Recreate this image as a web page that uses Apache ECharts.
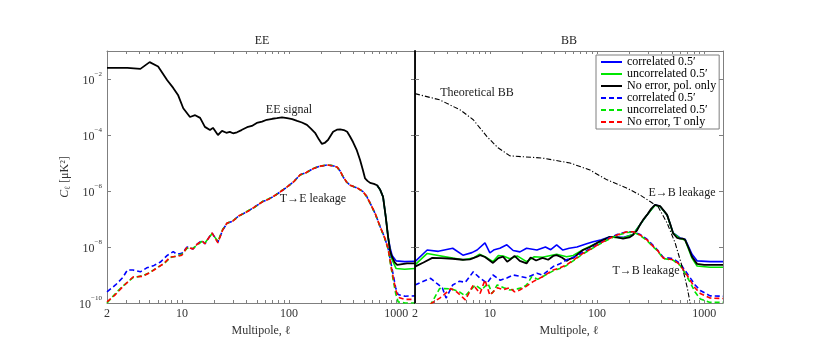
<!DOCTYPE html>
<html>
<head>
<meta charset="utf-8">
<script src="https://cdn.jsdelivr.net/npm/echarts@6/dist/echarts.min.js"></script>
<style>
  html, body { margin: 0; padding: 0; background: #fff; }
  #chart { width: 830px; height: 348px; }
</style>
</head>
<body>
<div id="chart"></div>
<script>
// tick positions and labels
const xTickLabels = [2, 10, 100, 1000]
const xTicks = [2, 3, 4, 5, 6, 7, 8, 9, 10, 20, 30, 40, 50, 60, 70, 80, 90, 100, 200, 300, 400, 500, 600, 700, 800, 900, 1000]
const yTicks = [1e-10, 1e-8, 1e-6, 1e-4, 1e-2]

// EE panel: [multipole, C_l]
const eeSignal = [[2, 2.5e-2], [3.1, 2.5e-2], [4.1, 2.3e-2], [5, 4e-2], [6, 2.8e-2], [7.3, 9e-3], [8.3, 4.8e-3], [9.2, 2.7e-3], [10.3, 9e-4], [11.9, 4.4e-4], [13.3, 5.1e-4], [14.8, 4.1e-4], [16.4, 1.95e-4], [18.3, 1.5e-4], [19.5, 1.8e-4], [21.7, 1e-4], [23.7, 1.4e-4], [26, 1.2e-4], [28, 1.3e-4], [30, 1.15e-4], [32.7, 1.25e-4], [36, 1.5e-4], [40.6, 1.9e-4], [45, 2.1e-4], [50, 2.7e-4], [56, 3e-4], [62, 3.5e-4], [70, 3.8e-4], [77, 4e-4], [86, 4.3e-4], [96, 4e-4], [107, 3.7e-4], [119, 3.2e-4], [132, 2.8e-4], [147, 2.3e-4], [160, 1.7e-4], [175, 1.2e-4], [190, 7e-5], [203, 4.8e-5], [215, 5.2e-5], [231, 6.6e-5], [258, 1.3e-4], [280, 1.55e-4], [300, 1.6e-4], [325, 1.5e-4], [349, 1.3e-4], [370, 9e-5], [396, 5.6e-5], [430, 2.8e-5], [460, 1.3e-5], [490, 5.5e-6], [513, 2.8e-6], [540, 2.3e-6], [572, 1.95e-6], [620, 1.8e-6], [664, 1.6e-6], [710, 1.1e-6], [755, 6.2e-7], [800, 1.2e-7], [841, 2.3e-8], [880, 7e-9], [917, 4.4e-9], [970, 2.8e-9], [1021, 2.3e-9], [1265, 2.6e-9], [1500, 2.6e-9]]
const eeCorrTail = [[664, 1.6e-6], [710, 1.1e-6], [755, 6.2e-7], [800, 1.2e-7], [841, 2.3e-8], [880, 9e-9], [917, 5e-9], [1000, 3.2e-9], [1200, 3e-9], [1500, 3.1e-9]]
const eeUncorrTail = [[664, 1.6e-6], [710, 1.1e-6], [755, 6.2e-7], [800, 1.2e-7], [841, 2.3e-8], [880, 6e-9], [917, 3.5e-9], [1000, 1.7e-9], [1200, 1.6e-9], [1500, 1.7e-9]]
const teLeakCorr = [[2, 2.5e-10], [2.4, 4.4e-10], [2.8, 8e-10], [3.1, 1.5e-9], [3.5, 1.5e-9], [4.1, 1.3e-9], [4.7, 1.8e-9], [5.5, 2.2e-9], [6.3, 2.9e-9], [7.3, 5e-9], [8.3, 6.8e-9], [9, 5.5e-9], [10, 6e-9], [11.2, 1e-8], [12.7, 8.5e-9], [14, 1.3e-8], [15.4, 1.7e-8], [16.4, 1.3e-8], [19.1, 3.2e-8], [21.7, 1.5e-8], [24, 4e-8], [26.4, 7e-8], [30, 8.5e-8], [34, 1.3e-7], [40.6, 1.8e-7], [47, 2.6e-7], [57, 4.2e-7], [64, 5e-7], [71, 6.3e-7], [82, 9e-7], [96, 1.4e-6], [110, 2.1e-6], [127, 3.8e-6], [145, 4.6e-6], [164, 6e-6], [190, 7.5e-6], [226, 8.5e-6], [255, 8e-6], [281, 7.2e-6], [300, 5.2e-6], [320, 3.2e-6], [345, 2.1e-6], [372, 1.6e-6], [432, 1.3e-6], [491, 9.5e-7], [530, 6.5e-7], [572, 3.7e-7], [640, 1.5e-7], [708, 5.4e-8], [780, 2.2e-8], [841, 9e-9], [890, 3e-9], [936, 1.1e-9], [990, 3.5e-10], [1043, 2e-10], [1211, 1.75e-10], [1500, 1.8e-10]]
const teLeakUncorr = [[2, 1e-10], [2.4, 2.2e-10], [2.8, 4e-10], [3.5, 8e-10], [4.3, 9.5e-10], [5, 1.2e-9], [5.9, 1.9e-9], [6.8, 2.5e-9], [7.8, 4.2e-9], [9, 4.8e-9], [10, 5.5e-9], [11.2, 9e-9], [12.7, 9e-9], [14, 1.2e-8], [15.4, 1.6e-8], [16.4, 1.4e-8], [19.1, 3e-8], [21.7, 1.6e-8], [24, 4.2e-8], [26.4, 7e-8], [30, 8.8e-8], [34, 1.25e-7], [40.6, 1.9e-7], [47, 2.5e-7], [57, 4.3e-7], [64, 5.2e-7], [71, 6.1e-7], [82, 9.2e-7], [96, 1.4e-6], [110, 2.1e-6], [127, 3.7e-6], [145, 4.5e-6], [164, 6.1e-6], [190, 7.6e-6], [226, 8.6e-6], [255, 8.1e-6], [281, 7.1e-6], [300, 5.2e-6], [320, 3.2e-6], [345, 2.1e-6], [372, 1.6e-6], [432, 1.3e-6], [491, 9.4e-7], [530, 6.4e-7], [572, 3.6e-7], [640, 1.5e-7], [708, 5.3e-8], [780, 2.1e-8], [841, 8.5e-9], [890, 2.2e-9], [936, 7e-10], [990, 2.2e-10], [1043, 1.1e-10], [1211, 1e-10], [1500, 1e-10]]
const teLeakNoErr = [[2, 1.1e-10], [2.4, 2e-10], [2.8, 3.8e-10], [3.5, 8.5e-10], [4.3, 9e-10], [5, 1.2e-9], [5.9, 1.8e-9], [6.8, 2.6e-9], [7.8, 4.4e-9], [9, 4.6e-9], [10, 5.1e-9], [11.2, 1e-8], [12.7, 8.5e-9], [14, 1.3e-8], [15.4, 1.66e-8], [16.4, 1.3e-8], [19.1, 3.2e-8], [21.7, 1.4e-8], [24, 4e-8], [26.4, 7.2e-8], [30, 8.5e-8], [34, 1.3e-7], [40.6, 1.8e-7], [47, 2.6e-7], [57, 4.2e-7], [64, 5e-7], [71, 6.3e-7], [82, 9e-7], [96, 1.4e-6], [110, 2.1e-6], [127, 3.8e-6], [145, 4.6e-6], [164, 6e-6], [190, 7.5e-6], [226, 8.5e-6], [255, 8e-6], [281, 7.2e-6], [300, 5.2e-6], [320, 3.2e-6], [345, 2.1e-6], [372, 1.6e-6], [432, 1.3e-6], [491, 9.5e-7], [530, 6.5e-7], [572, 3.7e-7], [640, 1.5e-7], [708, 5.4e-8], [780, 2.2e-8], [841, 9e-9], [890, 2.5e-9], [936, 8.7e-10], [990, 3e-10], [1043, 1.6e-10], [1211, 1.35e-10], [1500, 1.35e-10]]

// BB panel: [multipole, C_l]
const bbTheory = [[2, 3e-3], [3.4, 1.8e-3], [5.3, 7.8e-4], [7, 3.5e-4], [9.4, 8.7e-5], [11.9, 3.5e-5], [15.4, 1.8e-5], [31, 1.5e-5], [56, 1e-5], [86, 5.6e-6], [124, 2.5e-6], [191, 1.26e-6], [252, 7.2e-7], [313, 4.2e-7], [372, 2.75e-7], [451, 7.2e-8], [536, 1.4e-8], [623, 2e-9], [693, 3.8e-10], [740, 1e-10], [760, 5e-11]]
const ebCorr = [[2, 3e-9], [2.6, 7.8e-9], [3.3, 7e-9], [4.5, 9e-9], [5.6, 5.1e-9], [6.8, 6.3e-9], [7.6, 7.8e-9], [9, 1.4e-8], [10, 6.2e-9], [11, 8e-9], [12.4, 9e-9], [14.4, 1.2e-8], [16.5, 7.5e-9], [19.1, 6.7e-9], [22, 9e-9], [27.5, 7.8e-9], [33, 1e-8], [37, 8e-9], [42, 1.2e-8], [48, 7.8e-9], [55, 9e-9], [65, 1e-8], [80, 1.3e-8], [92, 1.55e-8], [110, 1.8e-8], [132, 2.3e-8], [175, 2.2e-8], [217, 2.8e-8], [252, 6.2e-8], [293, 1.4e-7], [348, 3.2e-7], [388, 2.8e-7], [451, 1.4e-7], [513, 3.2e-8], [596, 2.1e-8], [664, 1.9e-8], [771, 5.5e-9], [859, 3.2e-9], [1136, 3e-9], [1500, 3e-9]]
const ebUncorr = [[2, 2.3e-9], [2.6, 5.9e-9], [3.3, 5e-9], [4.5, 4e-9], [5.6, 3.5e-9], [7, 4e-9], [8, 5.5e-9], [9, 4.5e-9], [10.7, 3e-9], [12, 5e-9], [13.3, 4.8e-9], [15.4, 3.8e-9], [18, 4.8e-9], [22, 3e-9], [26, 4.5e-9], [31, 4.3e-9], [37, 5e-9], [42, 5.5e-9], [52, 4.5e-9], [60, 5e-9], [74, 8e-9], [100, 1.4e-8], [132, 2.3e-8], [175, 2.1e-8], [217, 2.8e-8], [252, 6.2e-8], [293, 1.4e-7], [348, 3.1e-7], [388, 2.8e-7], [451, 1.4e-7], [513, 3.1e-8], [596, 2e-8], [664, 1.8e-8], [771, 4e-9], [859, 2.1e-9], [1136, 1.9e-9], [1500, 1.9e-9]]
const ebNoErr = [[2, 2e-9], [2.4, 2.8e-9], [2.9, 4.1e-9], [3.5, 4e-9], [4.5, 3.8e-9], [5.6, 3.5e-9], [6.5, 3.6e-9], [7.6, 4.5e-9], [8.1, 5.1e-9], [9, 4.4e-9], [10.7, 2.7e-9], [12, 4e-9], [13.3, 4.5e-9], [14.5, 3e-9], [15.4, 3.5e-9], [17, 4.8e-9], [19, 3.2e-9], [22, 2.6e-9], [24, 4.2e-9], [27, 3.3e-9], [31, 4.1e-9], [35, 3.5e-9], [39, 4.8e-9], [42, 5.1e-9], [47, 4.2e-9], [52, 3.2e-9], [56, 3.8e-9], [60, 4.1e-9], [66, 5.5e-9], [74, 7.8e-9], [86, 1e-8], [100, 1.4e-8], [115, 1.8e-8], [132, 2.3e-8], [155, 2.2e-8], [175, 2e-8], [200, 2.2e-8], [217, 2.7e-8], [235, 3.8e-8], [252, 6.2e-8], [270, 9.5e-8], [293, 1.4e-7], [320, 2.3e-7], [348, 3.2e-7], [388, 2.9e-7], [420, 2e-7], [451, 1.4e-7], [480, 7e-8], [513, 3.1e-8], [560, 2.1e-8], [596, 2e-8], [630, 2e-8], [664, 1.8e-8], [710, 1e-8], [771, 4.5e-9], [859, 2.5e-9], [1000, 2.3e-9], [1136, 2.3e-9], [1500, 2.3e-9]]
const tbCorr = [[2, 4.4e-10], [2.4, 6e-10], [2.8, 7.6e-10], [3.2, 5e-10], [3.6, 3.5e-10], [3.9, 1.5e-10], [4.5, 4.4e-10], [5.2, 6e-10], [5.9, 5.5e-10], [7, 1.3e-9], [8, 8e-10], [9.4, 5.1e-10], [10.7, 1e-9], [12.5, 6.5e-10], [14.4, 7.8e-10], [16.5, 1e-9], [19, 9e-10], [22, 8e-10], [27.5, 1.15e-9], [31, 1e-9], [39, 2e-9], [45, 2.5e-9], [52, 3.5e-9], [62, 4.5e-9], [74, 6.5e-9], [90, 9.5e-9], [107, 1.4e-8], [130, 2.1e-8], [154, 2.8e-8], [191, 3.5e-8], [217, 3.5e-8], [252, 2.8e-8], [293, 1.9e-8], [330, 1.2e-8], [365, 8e-9], [415, 4.3e-9], [513, 3.8e-9], [596, 2.6e-9], [660, 1.5e-9], [740, 8e-10], [820, 4.5e-10], [920, 2.8e-10], [1136, 1.8e-10], [1500, 1.75e-10]]
const tbUncorr = [[2, 5e-11], [2.76, 8e-11], [3.4, 3.3e-10], [4.4, 3.2e-10], [5.2, 2.5e-10], [5.9, 1.8e-10], [7.3, 4.4e-10], [8.4, 3e-10], [9.6, 5e-10], [10.5, 2.2e-10], [11.7, 4.4e-10], [13.5, 3.5e-10], [15.4, 2.9e-10], [18, 3.2e-10], [20, 3.5e-10], [22, 4.4e-10], [24.6, 8.7e-10], [28, 7e-10], [33, 1e-9], [39, 1.4e-9], [45, 1.7e-9], [52, 2.2e-9], [62, 3.5e-9], [74, 5.7e-9], [90, 8.8e-9], [107, 1.3e-8], [130, 1.9e-8], [154, 2.6e-8], [191, 3.3e-8], [217, 3.4e-8], [252, 2.6e-8], [293, 1.7e-8], [330, 1.05e-8], [365, 7.5e-9], [415, 3.9e-9], [513, 3.4e-9], [596, 2.2e-9], [660, 1.2e-9], [740, 5.5e-10], [820, 2.5e-10], [920, 1.4e-10], [1136, 1.05e-10], [1500, 1.05e-10]]
const tbNoErr = [[2, 6e-11], [2.76, 9e-11], [3.4, 1.5e-10], [3.7, 1.9e-10], [4.3, 3.3e-10], [4.9, 2.5e-10], [5.9, 1.3e-10], [7, 4.4e-10], [8.1, 2.2e-10], [9, 6.6e-10], [10, 1.9e-10], [11.7, 3.5e-10], [13.3, 3e-10], [15.4, 3.5e-10], [17, 2.5e-10], [19, 2.9e-10], [22, 4e-10], [25.3, 5.8e-10], [31, 8.7e-10], [38.9, 1.5e-9], [45, 1.8e-9], [52, 2.3e-9], [62, 3.7e-9], [74, 5.9e-9], [90, 9e-9], [107, 1.35e-8], [130, 2e-8], [154, 2.7e-8], [191, 3.5e-8], [217, 3.5e-8], [252, 2.7e-8], [293, 1.8e-8], [330, 1.1e-8], [365, 7.8e-9], [415, 4e-9], [513, 3.5e-9], [596, 2.3e-9], [660, 1.3e-9], [740, 6.6e-10], [820, 3.5e-10], [920, 2.2e-10], [1136, 1.5e-10], [1500, 1.45e-10]]

const FONT = '"Liberation Serif", "DejaVu Serif", serif'
const GREY = '#7f7f7f'
const BLUE = '#0000ff'
const GREEN = '#00e600'
const RED = '#ff0000'
const DASH = [5, 3]

// legend names (zero-width space keeps the dashed entries distinct)
const names = ['correlated 0.5′', 'uncorrelated 0.5′', 'No error, pol. only', 'correlated 0.5′\u200b', 'uncorrelated 0.5′\u200b', 'No error, T only']

const chart = echarts.init(document.getElementById('chart'), null, { renderer: 'canvas' })

const xAxis = (gridIndex, position, labels) => ({
  type: 'log', logBase: 10, gridIndex, position, min: 2, max: 1500,
  axisLine: { show: true, onZero: false, lineStyle: { color: GREY, width: 1 } },
  axisTick: { show: true, inside: true, length: 3, customValues: xTicks, lineStyle: { color: GREY } },
  axisLabel: { show: labels, customValues: xTickLabels, margin: 5, color: '#333', fontFamily: FONT, fontSize: 12,
    formatter: v => String(Math.round(v)) },
  splitLine: { show: false },
  name: labels ? 'Multipole, ℓ' : '', nameLocation: 'middle', nameGap: 20,
  nameTextStyle: { color: '#333', fontFamily: FONT, fontSize: 12 }
})

const yAxis = (gridIndex, position, labels, color, width) => ({
  type: 'log', logBase: 10, gridIndex, position, min: 1e-10, max: 1e-1,
  axisLine: { show: true, onZero: false, lineStyle: { color, width } },
  axisTick: { show: true, inside: true, length: 4, customValues: yTicks, lineStyle: { color: GREY } },
  axisLabel: { show: labels, customValues: yTicks, margin: 5, color: '#333', fontFamily: FONT,
    formatter: v => '{b|10}{s|−' + Math.round(-Math.log10(v)) + '}',
    rich: {
      b: { fontSize: 12, fontFamily: FONT, color: '#333', lineHeight: 16, verticalAlign: 'bottom' },
      s: { fontSize: 7, fontFamily: FONT, color: '#333', lineHeight: 16, verticalAlign: 'top' }
    } },
  splitLine: { show: false },
  name: labels ? '{c|C}{l|ℓ}{b| [μK²]}' : '', nameLocation: 'middle', nameGap: 35, nameRotate: 90,
  nameTextStyle: { rich: {
    c: { fontSize: 12, fontStyle: 'italic', fontFamily: FONT, color: '#333', lineHeight: 14 },
    l: { fontSize: 8, fontFamily: FONT, color: '#333', lineHeight: 14, verticalAlign: 'bottom' },
    b: { fontSize: 12, fontFamily: FONT, color: '#333', lineHeight: 14 }
  } },
  z: width > 1 ? 5 : 0
})

const line = (name, data, color, type, panel, width = 1.6) => ({
  name, type: 'line', data,
  xAxisIndex: panel * 2, yAxisIndex: panel * 2,
  symbol: 'none', clip: true, silent: true,
  lineStyle: { color, width, type },
  itemStyle: { color }
})

const text = (str, x, y, size = 12) => ({
  type: 'text', x, y, silent: true,
  style: { text: str, fontSize: size, fontFamily: FONT, fill: '#222',
    align: 'center', verticalAlign: 'middle', textAlign: 'center', textVerticalAlign: 'middle' }
})

chart.setOption({
  animation: false,
  backgroundColor: '#fff',
  grid: [
    { left: 107, top: 51, width: 308, height: 252 },
    { left: 415, top: 51, width: 308, height: 252 }
  ],
  xAxis: [
    xAxis(0, 'bottom', true), xAxis(0, 'top', false),
    xAxis(1, 'bottom', true), xAxis(1, 'top', false)
  ],
  yAxis: [
    yAxis(0, 'left', true, GREY, 1), yAxis(0, 'right', false, GREY, 1),
    yAxis(1, 'left', false, '#000', 1.8), yAxis(1, 'right', false, GREY, 1)
  ],
  legend: {
    left: 596, top: 55, orient: 'vertical',
    itemWidth: 21, itemHeight: 10, itemGap: 0,
    padding: [1, 3, 1, 4],
    borderColor: GREY, borderWidth: 1, backgroundColor: '#fff',
    selectedMode: false, z: 10,
    itemStyle: { opacity: 0, borderWidth: 0 },
    textStyle: { fontFamily: FONT, fontSize: 12, color: '#000', lineHeight: 10.5 },
    data: names
  },
  graphic: [
    text('EE', 262, 41),
    text('BB', 569, 41),
    text('EE signal', 289, 110),
    text('T→E leakage', 313, 199),
    text('Theoretical BB', 477, 93),
    text('E→B leakage', 682, 193),
    text('T→B leakage', 646, 271)
  ],
  series: [
    line(names[0], eeCorrTail, BLUE, 'solid', 0),
    line(names[1], eeUncorrTail, GREEN, 'solid', 0),
    line(names[2], eeSignal, '#000', 'solid', 0, 1.8),
    line(names[3], teLeakCorr, BLUE, DASH, 0),
    line(names[4], teLeakUncorr, GREEN, DASH, 0),
    line(names[5], teLeakNoErr, RED, DASH, 0),

    line(names[0], ebCorr, BLUE, 'solid', 1),
    line(names[1], ebUncorr, GREEN, 'solid', 1),
    line(names[2], ebNoErr, '#000', 'solid', 1, 1.8),
    line(names[3], tbCorr, BLUE, DASH, 1),
    line(names[4], tbUncorr, GREEN, DASH, 1),
    line(names[5], tbNoErr, RED, DASH, 1),
    line('Theoretical BB', bbTheory, '#000', [5, 2, 1.2, 2], 1, 1.1)
  ]
})
</script>
</body>
</html>
